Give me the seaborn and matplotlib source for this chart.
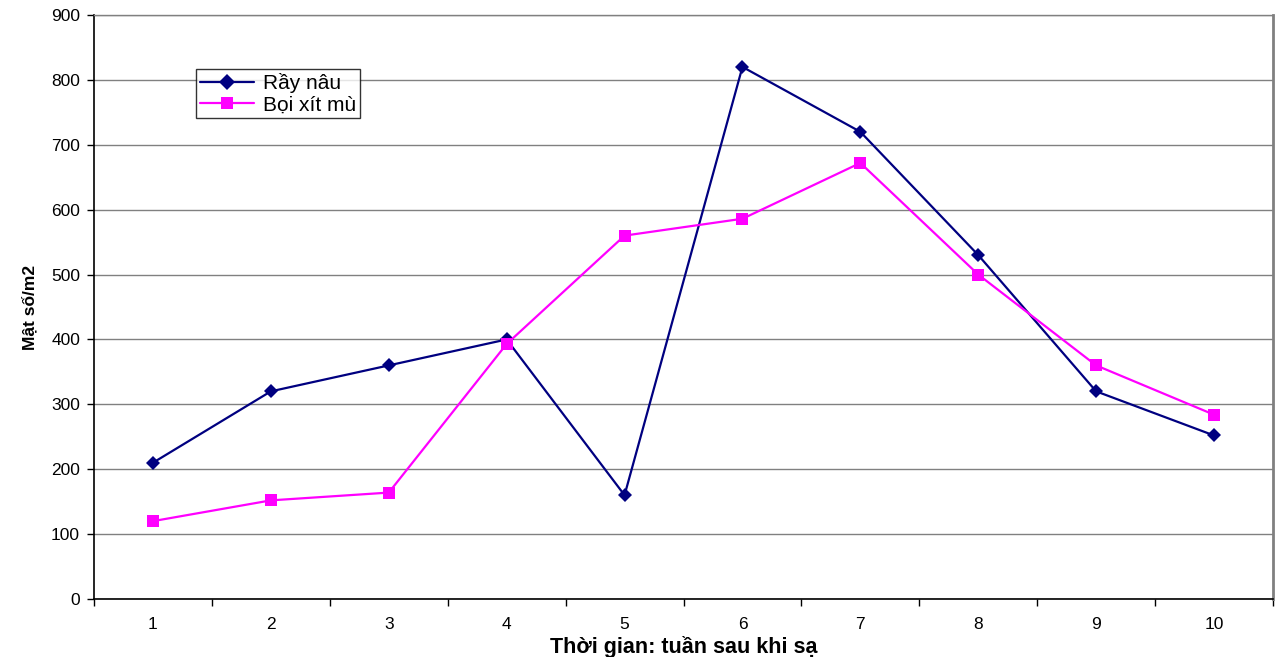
import matplotlib
matplotlib.use("Agg")
import matplotlib.pyplot as plt
import seaborn as sns
import pandas as pd
from matplotlib.ticker import FixedLocator, NullFormatter

weeks = [1, 2, 3, 4, 5, 6, 7, 8, 9, 10]
ray_nau = [210, 320, 360, 400, 160, 820, 720, 530, 320, 252]
boi_xit_mu = [120, 152, 164, 393, 560, 586, 672, 500, 360, 284]
series_names = ["Rầy nâu", "Bọi xít mù"]
y_ticks = [0, 100, 200, 300, 400, 500, 600, 700, 800, 900]

df = pd.concat([
    pd.DataFrame({"week": weeks, "value": ray_nau, "series": series_names[0]}),
    pd.DataFrame({"week": weeks, "value": boi_xit_mu, "series": series_names[1]}),
])

sns.set_style("white")
plt.rcParams["font.family"] = ["Liberation Sans", "DejaVu Sans"]
plt.rcParams["text.color"] = "black"
plt.rcParams["axes.labelcolor"] = "black"
plt.rcParams["xtick.color"] = "black"
plt.rcParams["ytick.color"] = "black"

fig = plt.figure(figsize=(12.82, 6.57), dpi=100)
ax = fig.add_axes([94 / 1282, 1 - 599 / 657, (1273 - 94) / 1282, (599 - 15) / 657])

palette = {series_names[0]: "#000080", series_names[1]: "#FF00FF"}
sns.lineplot(data=df, x="week", y="value", hue="series", style="series",
             palette=palette, markers={series_names[0]: "D", series_names[1]: "s"},
             dashes=False, linewidth=1.6, markersize=7, markeredgewidth=0,
             ax=ax, legend=True)
# diamond a bit smaller than square
for line, ms in zip(ax.lines[:2], [7, 8.5]):
    line.set_markersize(ms)

ax.set_xlim(0.5, 10.5)
ax.set_ylim(0, 900)
ax.set_yticks(y_ticks)
ax.set_xticks(weeks)
ax.set_xticklabels([str(w) for w in weeks])
ax.xaxis.set_minor_locator(FixedLocator([w + 0.5 for w in [0] + weeks]))
ax.xaxis.set_minor_formatter(NullFormatter())
ax.tick_params(axis="x", which="major", length=0, pad=13, labelsize=12.5)
ax.tick_params(axis="x", which="minor", length=5, width=1, color="black", direction="out")
ax.tick_params(axis="y", length=5, width=1, color="black", direction="out", labelsize=12.5, pad=5)
ax.yaxis.set_ticks_position("left")
ax.xaxis.set_ticks_position("bottom")

ax.grid(axis="y", color="#808080", linewidth=1)
ax.set_axisbelow(True)
for s in ["left", "bottom"]:
    ax.spines[s].set_color("black")
    ax.spines[s].set_linewidth(1.2)
ax.spines["right"].set_color("#808080")
ax.spines["right"].set_linewidth(2)
ax.spines["top"].set_color("#808080")
ax.spines["top"].set_linewidth(1)

ax.set_xlabel("Thời gian: tuần sau khi sạ", fontsize=15.5, fontweight="bold", labelpad=3)
ax.set_ylabel("Mật số/m2", fontsize=12.5, fontweight="bold", labelpad=10,
              family=["Liberation Sans Narrow", "Liberation Sans", "DejaVu Sans"])

handles, labels = ax.get_legend_handles_labels()
for h, ms in zip(handles, [8, 9]):
    h.set_markersize(ms)
leg = ax.legend(handles, labels, loc="upper left", bbox_to_anchor=(0.0865, 0.9075),
                frameon=True, fancybox=False, fontsize=15, borderpad=0.2,
                labelspacing=0.1, handlelength=2.6, handletextpad=0.4, borderaxespad=0)
leg.get_frame().set_edgecolor("black")
leg.get_frame().set_linewidth(1)

fig.savefig("out.png", dpi=100, facecolor="white")
